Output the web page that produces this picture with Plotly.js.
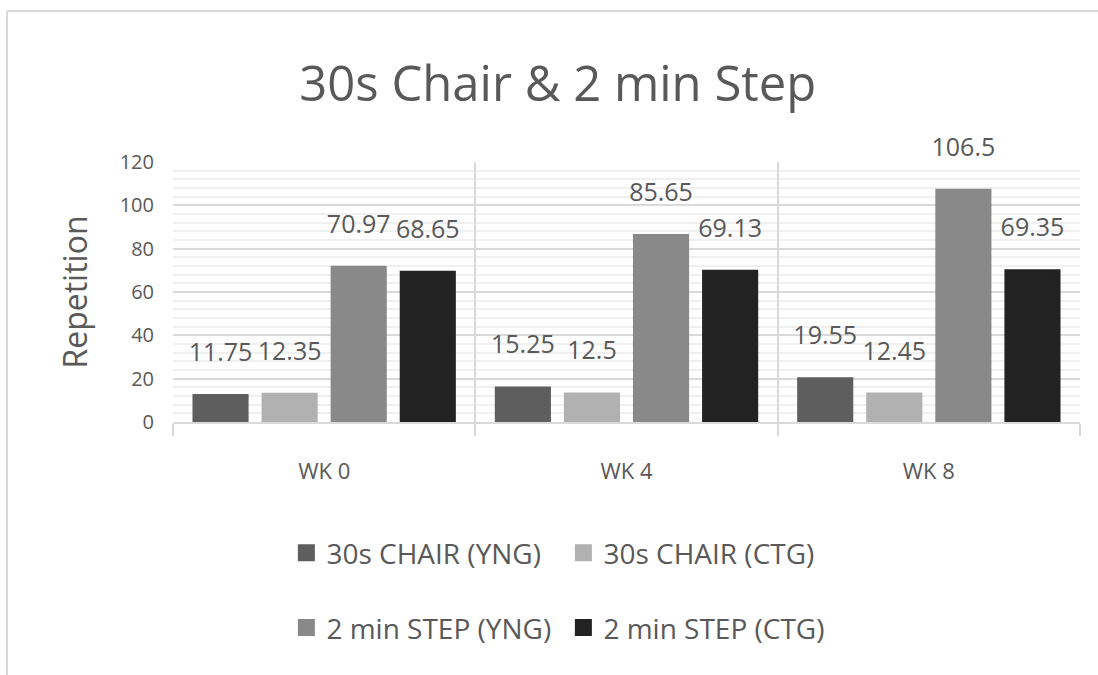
<!DOCTYPE html>
<html>
<head>
<meta charset="utf-8">
<script src="https://cdn.plot.ly/plotly-3.0.1.min.js"></script>
<style>
html,body{margin:0;padding:0;background:#fff;}
#chart{width:1098px;height:675px;}
</style>
</head>
<body>
<div id="chart"></div>
<script>
// ---- data ----
var categories = ['WK 0', 'WK 4', 'WK 8'];
var seriesNames = ['30s CHAIR (YNG)', '30s CHAIR (CTG)', '2 min STEP (YNG)', '2 min STEP (CTG)'];
var chairYng = [11.75, 15.25, 19.55];
var chairCtg = [12.35, 12.5, 12.45];
var stepYng = [70.97, 85.65, 106.5];
var stepCtg = [68.65, 69.13, 69.35];
var yTickVals = [0, 20, 40, 60, 80, 100, 120];

// ---- style ----
var FONT = '"Open Sans", "Noto Sans", sans-serif';
var TXT = '#595959';
var colors = ['#5e5e5e', '#b1b1b1', '#898989', '#232323'];
var allSeries = [chairYng, chairCtg, stepYng, stepCtg];
var legendIds = ['legend', 'legend', 'legend2', 'legend2'];

var traces = allSeries.map(function (vals, i) {
  return {
    type: 'bar',
    name: seriesNames[i],
    x: categories,
    y: vals,
    text: vals.map(String),
    texttemplate: '%{text}<br><span style="font-size:1px">&nbsp;</span>',
    textposition: 'outside',
    constraintext: 'none',
    cliponaxis: false,
    textfont: {family: FONT, size: 25, color: TXT},
    marker: {color: colors[i], line: {color: colors[i], width: 5}},
    legend: legendIds[i],
    hoverinfo: 'x+y+name'
  };
});

var legendCommon = {
  orientation: 'h',
  x: 0.125, xanchor: 'left',
  yanchor: 'middle',
  entrywidth: 232, entrywidthmode: 'pixels',
  font: {family: FONT, size: 28, color: TXT},
  bgcolor: 'rgba(0,0,0,0)',
  traceorder: 'normal'
};

var layout = {
  width: 1098, height: 675,
  margin: {l: 173, r: 18, t: 162, b: 253},
  paper_bgcolor: '#ffffff',
  plot_bgcolor: '#ffffff',
  font: {family: FONT, color: TXT},
  title: {
    text: '30s Chair & 2 min Step',
    font: {family: FONT, size: 49, color: TXT},
    x: 0.508, xanchor: 'center', xref: 'container',
    y: 0.876, yanchor: 'middle', yref: 'container'
  },
  barmode: 'group',
  bargap: 0.086,
  bargroupgap: 0.26,
  xaxis: {
    type: 'category',
    tickson: 'boundaries',
    showgrid: true, gridcolor: '#d9d9d9', gridwidth: 2,
    ticks: 'outside', ticklen: 12, tickcolor: '#d9d9d9', tickwidth: 2,
    showline: true, linecolor: '#d9d9d9', linewidth: 2,
    tickfont: {family: FONT, size: 22, color: TXT},
    ticklabelstandoff: 29,
    fixedrange: true
  },
  yaxis: {
    range: [0, 120],
    tickvals: yTickVals,
    ticktext: yTickVals.map(String),
    showgrid: true, gridcolor: '#d9d9d9', gridwidth: 2,
    minor: {dtick: 4, showgrid: true, gridcolor: '#f0f0f0', gridwidth: 2},
    zeroline: false,
    showline: false,
    ticks: '',
    tickfont: {family: FONT, size: 20, color: TXT},
    ticklabelstandoff: 18,
    automargin: true,
    title: {text: 'Repetition', standoff: 22, font: {family: FONT, size: 32, color: TXT}},
    fixedrange: true
  },
  legend: Object.assign({}, legendCommon, {y: -0.504}),
  legend2: Object.assign({}, legendCommon, {y: -0.792}),
  showlegend: true,
  shapes: [
    {type: 'line', xref: 'paper', yref: 'paper', x0: -0.183, x1: 1.1, y0: 1.581, y1: 1.581,
     line: {color: '#d9d9d9', width: 2}},
    {type: 'line', xref: 'paper', yref: 'paper', x0: -0.183, x1: -0.183, y0: 1.581, y1: -1.1,
     line: {color: '#d9d9d9', width: 2}}
  ]
};

Plotly.newPlot('chart', traces, layout, {displayModeBar: false});
</script>
</body>
</html>
